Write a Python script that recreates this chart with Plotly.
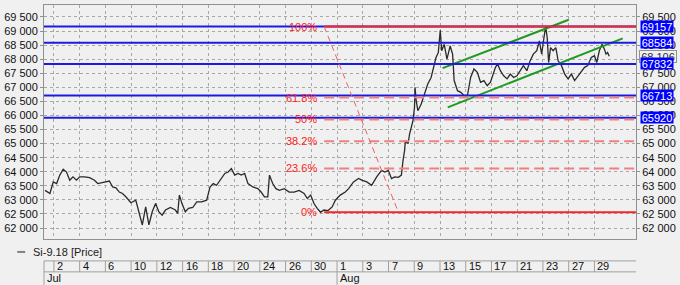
import plotly.graph_objects as go

# ---------------- data ----------------
# session index: 0 = Jul 2 (trading days only), fractions = intraday
t_sess = [
    -0.69, -0.31, -0.05, 0.21, 0.46, 0.72, 0.98, 1.23, 1.48, 1.75,
    2.0, 2.38, 2.77, 3.15, 3.41, 3.67, 4.05, 4.31, 4.56, 4.82,
    5.08, 5.33, 5.59, 5.98, 6.36, 6.62, 6.87, 7.13, 7.38, 7.64,
    7.9, 8.15, 8.41, 8.67, 9.05, 9.44, 9.62, 9.75, 9.95, 10.21,
    10.46, 10.79,
    11.1, 11.48, 11.87, 12.13, 12.38, 12.64, 13.02, 13.28, 13.54, 13.79,
    14.05, 14.31, 14.56, 14.82, 15.08, 15.46, 15.85, 16.1, 16.36, 16.62,
    16.75, 17.0, 17.25, 17.52, 17.9, 18.28, 18.67, 19.05, 19.44, 19.69,
    19.95, 20.21, 20.46, 20.72, 20.98,
    21.3, 21.62, 21.87, 22.25, 22.64, 22.9, 23.28, 23.67, 23.92, 24.31,
    24.69, 25.08, 25.46, 25.72, 25.98, 26.23, 26.48, 26.77, 27.0, 27.13,
    27.25, 27.31, 27.52, 27.64, 27.9, 28.02, 28.06, 28.15, 28.28, 28.54,
    28.79, 29.05, 29.31, 29.52, 29.69, 29.87, 30.02, 30.13, 30.33, 30.54,
    30.79, 30.98, 31.1, 31.36, 31.62, 31.87, 32.13, 32.38, 32.64, 32.9,
    33.15, 33.41, 33.67, 33.92, 34.31, 34.48, 34.69, 34.95, 35.21, 35.46,
    35.72, 35.98, 36.23, 36.48, 36.75, 37.0, 37.25, 37.52, 37.72, 37.9,
    38.08, 38.21, 38.33, 38.44, 38.59, 38.79, 39.0, 39.18, 39.44, 39.69,
    39.95, 40.21, 40.46, 40.72, 40.98, 41.23, 41.48, 41.75, 42.0, 42.18,
    42.38, 42.59, 42.77, 42.9, 43.02, 43.15,
]
price = [
    63340, 63230, 63640, 63580, 63880, 64090, 63990, 63700, 63820, 63700,
    63820, 63820, 63790, 63700, 63580, 63600, 63640, 63670, 63460, 63430,
    63280, 63230, 63110, 62900, 62990, 62580, 62110, 62750, 62110, 62580,
    62870, 62580, 62460, 62640, 62730, 62640, 62520, 63170, 62870, 62580,
    62700, 62730,
    62930, 62930, 62990, 63460, 63580, 63520, 63760, 63940, 63990, 64110,
    63880, 63940, 63880, 63940, 63580, 63460, 63400, 63280, 63110, 63110,
    63880, 63580, 63400, 63340, 63400, 63280, 63280, 63340, 63230, 63050,
    63170, 62870, 62700, 62560, 62640,
    62620, 62750, 62990, 63170, 63280, 63400, 63640, 63760, 63700, 63640,
    63520, 63820, 64050, 63990, 64050, 63760, 63820, 63800, 63880, 64410,
    64760, 65110, 65000, 65350, 65820, 66290, 67000, 66530, 66170, 66410,
    66770, 67120, 67350, 67710, 68060, 68240, 69030, 68300, 68530, 68000,
    68470, 68180, 67240, 66880, 66820, 66710, 66710, 67350, 67650, 67530,
    67180, 67240, 67060, 67180, 67710, 67830, 67590, 67410, 67300, 67470,
    67350, 67410, 67590, 67770, 67590, 67940, 68180, 68300, 68650, 68180,
    68770, 69157, 68770, 67880, 68410, 68300, 68410, 67940, 67770, 67470,
    67300, 67470, 67240, 67410, 67590, 67710, 67770, 68060, 68120, 67880,
    68300, 68530, 68360, 68180, 68240, 68106,
]
assert len(t_sess) == len(price)

day_labels = ["2", "4", "6", "10", "12", "16", "18", "20", "24", "26", "30",
              "1", "3", "7", "9", "13", "15", "17", "21", "23", "27", "29"]
day_pos = [0, 2, 4, 6, 8, 10, 12, 14, 16, 18, 20,
           22, 24, 26, 28, 30, 32, 34, 36, 38, 40, 42]
month_labels = ["Jul", "Aug"]
month_pos = [-0.77, 22]

y_ticks = [62000, 62500, 63000, 63500, 64000, 64500, 65000, 65500,
           66000, 66500, 67000, 67500, 68000, 68500, 69000, 69500]

blue_levels = [69157, 68584, 67832, 66713, 65920]
blue_labels = ["69157", "68584", "67832", "66713", "65920"]

fib_low, fib_high = 62560, 69157
fib_ratios = [1.0, 0.618, 0.5, 0.382, 0.236, 0.0]
fib_labels = ["100%", "61.8%", "50%", "38.2%", "23.6%", "0%"]
fib_start = 21.0
fib_diag_end = 26.77

chan_upper_t = [30.2, 40.0]
chan_upper_p = [67680, 69400]
chan_lower_t = [30.6, 44.2]
chan_lower_p = [66290, 68740]

last_price = 68106
last_label = "68 106"
series_name = "Si-9.18 [Price]"

X_RANGE = [-0.77, 45.23]
Y_RANGE = [61611, 69925]

# ---------------- styles ----------------
BG = "#f0f0f0"
GRID = "#a8a8a8"
AXIS = "#909090"
BLUE = "#1c1ce0"
RED = "#f02828"
RED_DASH = "#f08080"
GREEN = "#1f9a1f"
FONT = "Liberation Sans, Arial, sans-serif"

fig = go.Figure()

shapes = []
for lv in blue_levels:
    shapes.append(dict(type="line", xref="paper", x0=0, x1=1, yref="y",
                       y0=lv, y1=lv, line=dict(color=BLUE, width=2), layer="above"))

for r in fib_ratios:
    v = fib_low + r * (fib_high - fib_low)
    solid = r in (0.0, 1.0)
    shapes.append(dict(type="line", xref="x", x0=fib_start, x1=X_RANGE[1], yref="y",
                       y0=v, y1=v,
                       line=dict(color=RED if solid else RED_DASH, width=2,
                                 dash="solid" if solid else "10px,5px"),
                       layer="above"))
shapes.append(dict(type="line", xref="x", yref="y", x0=fib_start, y0=fib_high,
                   x1=fib_diag_end, y1=fib_low,
                   line=dict(color="#f06060", width=1, dash="6px,4px"), layer="above"))


def py(p):  # pixel row -> paper y
    return (239 - p) / 235.0


TBL_TOP, TBL_MID, TBL_BOT = py(261), py(272), py(285)
LINE_T = dict(color="#a0a0a0", width=1)
shapes.append(dict(type="line", xref="paper", yref="paper", x0=0, x1=1,
                   y0=TBL_TOP, y1=TBL_TOP, line=LINE_T))
shapes.append(dict(type="line", xref="paper", yref="paper", x0=0, x1=1,
                   y0=TBL_MID, y1=TBL_MID, line=LINE_T))
shapes.append(dict(type="line", xref="paper", yref="paper", x0=0, x1=0,
                   y0=TBL_TOP, y1=TBL_BOT, line=LINE_T))
for d in day_pos:
    shapes.append(dict(type="line", xref="x", yref="paper", x0=d, x1=d,
                       y0=TBL_TOP, y1=TBL_MID, line=LINE_T))
for m in month_pos[1:]:
    shapes.append(dict(type="line", xref="x", yref="paper", x0=m, x1=m,
                       y0=TBL_MID, y1=TBL_BOT, line=LINE_T))
shapes.append(dict(type="line", xref="paper", yref="paper",
                   x0=(12 - 39) / 598, x1=(20 - 39) / 598, y0=py(252), y1=py(252),
                   line=dict(color="#808080", width=2)))

# ---------------- traces ----------------
fig.add_trace(go.Scatter(x=t_sess, y=price, mode="lines",
                         line=dict(color="#2a2a2a", width=1.3), showlegend=False,
                         hoverinfo="skip"))
fig.add_trace(go.Scatter(x=chan_upper_t, y=chan_upper_p, mode="lines",
                         line=dict(color=GREEN, width=2), showlegend=False))
fig.add_trace(go.Scatter(x=chan_lower_t, y=chan_lower_p, mode="lines",
                         line=dict(color=GREEN, width=2), showlegend=False))
fig.add_trace(go.Scatter(x=[X_RANGE[0]], y=[Y_RANGE[0]], yaxis="y2", mode="markers",
                         marker=dict(opacity=0), showlegend=False, hoverinfo="skip"))

# ---------------- annotations ----------------
ann = []
for r, lab in zip(fib_ratios, fib_labels):
    v = fib_low + r * (fib_high - fib_low)
    ann.append(dict(x=fib_start, y=v, xref="x", yref="y", text=lab, showarrow=False,
                    xanchor="right", yanchor="middle", xshift=-5,
                    font=dict(color="#ff1a1a", size=11, family=FONT)))
ann.append(dict(x=1, y=last_price, xref="paper", yref="y", text=last_label,
                showarrow=False, xanchor="left", yanchor="middle", xshift=3,
                bgcolor=BG, bordercolor="#909090", borderwidth=1, borderpad=0,
                height=11, width=36,
                font=dict(color="#303030", size=11, family=FONT)))
for lv, lab in zip(blue_levels, blue_labels):
    ann.append(dict(x=1, y=lv, xref="paper", yref="y", text=lab, showarrow=False,
                    xanchor="left", yanchor="middle", xshift=4, bgcolor="#0000ff",
                    borderpad=0, height=11, width=32,
                    font=dict(color="white", size=11, family=FONT)))
for d, lab in zip(day_pos, day_labels):
    ann.append(dict(x=d, y=(TBL_TOP + TBL_MID) / 2, xref="x", yref="paper", text=lab,
                    showarrow=False, xanchor="left", yanchor="middle", xshift=1,
                    font=dict(color="#101010", size=11, family=FONT)))
for m, lab in zip(month_pos, month_labels):
    ann.append(dict(x=m, y=(TBL_MID + TBL_BOT) / 2, xref="x", yref="paper", text=lab,
                    showarrow=False, xanchor="left", yanchor="middle", xshift=1,
                    font=dict(color="#101010", size=11, family=FONT)))
ann.append(dict(x=(26 - 39) / 598, y=py(252), xref="paper", yref="paper",
                text=series_name, showarrow=False, xanchor="left", yanchor="middle",
                font=dict(color="#202020", size=11, family=FONT)))

fig.update_layout(
    width=680, height=285,
    margin=dict(l=39, r=43, t=4, b=46, pad=0),
    paper_bgcolor=BG, plot_bgcolor=BG,
    separators=". ",
    font=dict(family=FONT, size=11, color="#101010"),
    showlegend=False,
    shapes=shapes,
    annotations=ann,
    xaxis=dict(range=X_RANGE, tickvals=day_pos, showticklabels=False,
               showgrid=True, gridcolor=GRID, griddash="dot", gridwidth=1,
               showline=True, linecolor=AXIS, mirror=True, ticks="",
               zeroline=False, fixedrange=True),
    yaxis=dict(range=Y_RANGE, tickvals=y_ticks, tickformat=",d",
               showgrid=True, gridcolor=GRID, griddash="dot", gridwidth=1,
               showline=True, linecolor=AXIS, mirror="ticks", ticks="outside",
               ticklen=3, tickcolor=AXIS, zeroline=False,
               tickfont=dict(size=11, color="#101010", family=FONT)),
    yaxis2=dict(range=Y_RANGE, tickvals=y_ticks, tickformat=",d", overlaying="y",
                side="right", showgrid=False, showline=False, ticks="outside",
                ticklen=3, tickcolor=AXIS, zeroline=False,
                tickfont=dict(size=11, color="#101010", family=FONT)),
)

fig.write_html("out.html")
